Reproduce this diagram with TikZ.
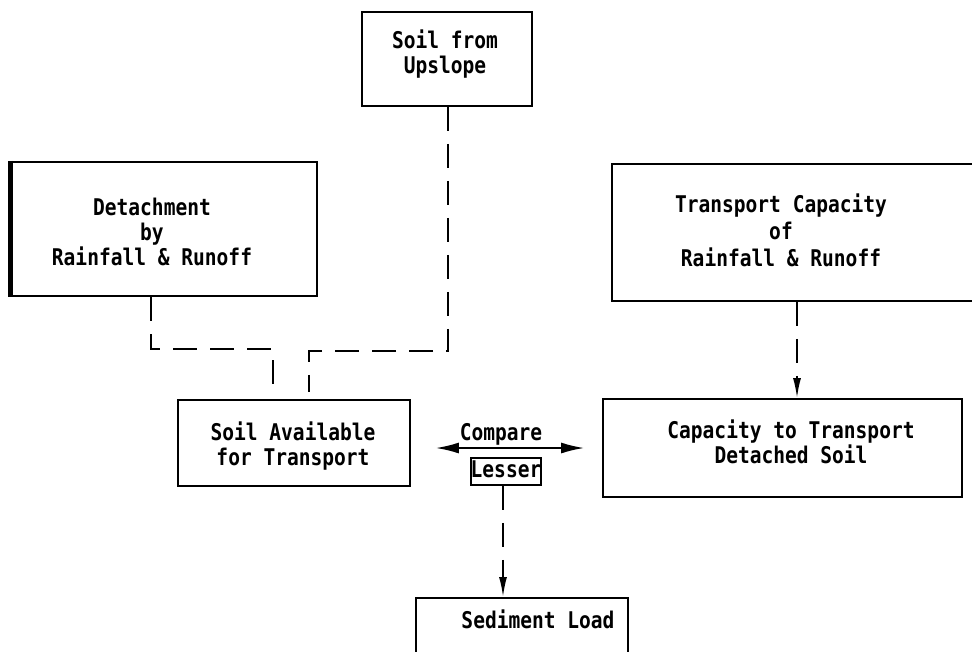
\documentclass[tikz,border=0pt]{standalone}
\usepackage{fontspec}
\newfontfamily\diafont{DejaVu Sans Mono}[FakeStretch=0.85]
\usetikzlibrary{arrows.meta}
\tikzset{
  box/.style={draw, line width=1.8pt, rectangle, inner sep=0pt},
  txt/.style={font=\diafont\bfseries\fontsize{23}{25}\selectfont, align=center, inner sep=0pt, text height=17pt, text depth=5pt},
  conn/.style={line width=1.8pt, dash pattern=on 24pt off 13pt},
  head/.style={-{Latex[length=20pt,width=8pt]}},
  dbl/.style={line width=1.8pt, {Latex[length=23pt,width=11pt]}-{Latex[length=23pt,width=11pt]}},
}
\begin{document}
\begin{tikzpicture}[x=1pt,y=-1pt]
\useasboundingbox (0,0) rectangle (972,651);
\clip (0,0) rectangle (972,651);
\fill[white] (0,0) rectangle (972,651);

% boxes
\node[box, minimum width=170pt, minimum height=94pt] (up) at (447,59) {};
\node[box, line width=2.5pt, minimum width=305pt, minimum height=134pt] (det) at (164.5,229) {};
\draw[line width=5pt] (det.north west) -- (det.south west);
\node[box, minimum width=390pt, minimum height=137pt, anchor=north west] (tc) at (611,163) {};
\node[box, minimum width=359pt, minimum height=98pt] (cap) at (782.5,448) {};
\node[box, minimum width=232pt, minimum height=86pt] (avail) at (294,443) {};
\node[box, minimum width=212pt, minimum height=100pt, anchor=north west] (sed) at (415,597) {};
\node[box, txt, minimum width=68pt, minimum height=27pt] (lesser) at (506,471.5) {Lesser};

% texts (multi-line nodes are placed by their last line)
\node[txt] (upT) at (445,67) {Soil from\\Upslope};
\node[txt] (detT) at (152,259) {Detachment\\by\\Rainfall \& Runoff};
\node[txt] (tcT) at (781,260) {Transport Capacity\\[2pt]of\\[2pt]Rainfall \& Runoff};
\node[txt] (capT) at (791,457) {Capacity to Transport\\Detached Soil};
\node[txt] (availT) at (293,459) {Soil Available\\for Transport};
\node[txt] (cmp) at (501,434) {Compare};
\node[txt] (sedT) at (538,622) {Sediment Load};

% connector helpers
\coordinate (c1) at (151,349);
\coordinate (c2) at (273,349);
\coordinate (c3) at (309,351);
\coordinate (c4) at (448,351);
\coordinate (c5) at (797,0);
\coordinate (c6) at (503,0);
\coordinate (cy) at (0,448);
\coordinate (availtop) at ([yshift=7pt]avail.north);
\coordinate (cmpL) at ([xshift=25pt]avail.east);
\coordinate (cmpR) at ([xshift=-18pt]cap.west);

% connectors
\draw[conn] (det.south -| c1) -- (c1) -- (c2) -- (availtop -| c2);
\draw[conn] (up.south -| c4) -- (c4) -- (c3) -- (availtop -| c3);
\draw[conn, head] (tc.south -| c5) -- (cap.north -| c5);
\draw[conn, head] (lesser.south -| c6) -- (sed.north -| c6);
\draw[dbl] (cmpL |- cy) -- (cmpR |- cy);
\end{tikzpicture}
\end{document}
